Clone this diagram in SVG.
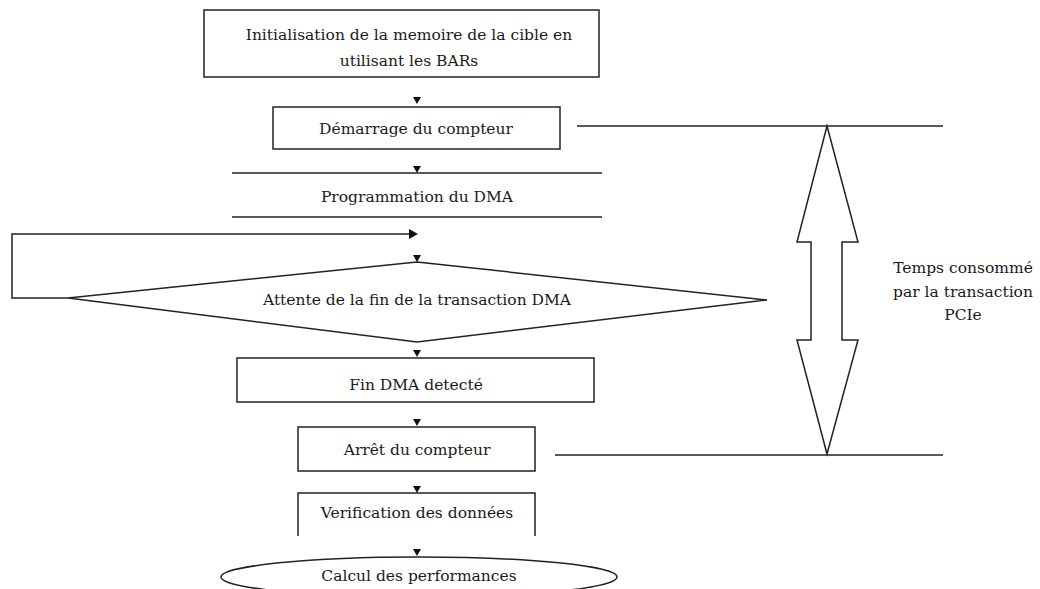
<svg xmlns="http://www.w3.org/2000/svg" width="1040" height="589" viewBox="0 0 1040 589">
  <style>
    .shape { fill: #ffffff; stroke: #222222; stroke-width: 1.5; }
    .line { fill: none; stroke: #222222; stroke-width: 1.5; }
    .label { font-family: "DejaVu Serif", "Liberation Serif", serif; font-size: 15.5px; fill: #1a1a1a; text-anchor: middle; }
    .head { fill: #111111; }
  </style>
  <rect width="1040" height="589" fill="#ffffff"/>

  <!-- connectors -->
  <g id="connectors">
    <polygon class="head" points="413,97 421,97 417,104"/>
    <polygon class="head" points="413,166 421,166 417,173"/>
    <polyline class="line" points="68,298 12,298 12,234 410,234"/>
    <polygon class="head" points="409,229 418,234 409,239"/>
    <polygon class="head" points="413,255 421,255 417,262"/>
    <polygon class="head" points="413,350 421,350 417,357"/>
    <polygon class="head" points="413,419 421,419 417,426"/>
    <polygon class="head" points="413,486 421,486 417,493"/>
    <polygon class="head" points="413,549 421,549 417,556"/>
  </g>

  <g id="init">
    <rect class="shape" x="204" y="10" width="395" height="67"/>
    <text class="label" x="409" y="40">Initialisation de la memoire de la cible en</text>
    <text class="label" x="409" y="66">utilisant les BARs</text>
  </g>

  <g id="start-counter">
    <rect class="shape" x="273" y="107" width="287" height="42"/>
    <text class="label" x="416" y="134">Démarrage du compteur</text>
  </g>

  <g id="dma-program">
    <line class="line" x1="232" y1="173" x2="602" y2="173"/>
    <line class="line" x1="232" y1="217" x2="602" y2="217"/>
    <text class="label" x="417" y="202">Programmation du DMA</text>
  </g>

  <g id="wait-dma">
    <polygon class="shape" points="417,262 767,300 417,342 68,298"/>
    <text class="label" x="417" y="305">Attente de la fin de la transaction DMA</text>
  </g>

  <g id="dma-done">
    <rect class="shape" x="237" y="358" width="357" height="44"/>
    <text class="label" x="416" y="390">Fin DMA detecté</text>
  </g>

  <g id="stop-counter">
    <rect class="shape" x="298" y="427" width="237" height="44"/>
    <text class="label" x="417" y="455">Arrêt du compteur</text>
  </g>

  <g id="verify">
    <polyline class="line" points="298,536 298,493 535,493 535,536"/>
    <text class="label" x="417" y="518">Verification des données</text>
  </g>

  <g id="perf">
    <ellipse class="shape" cx="419" cy="577" rx="198" ry="20"/>
    <text class="label" x="419" y="581">Calcul des performances</text>
  </g>

  <!-- elapsed time span -->
  <g id="time-span">
    <line class="line" x1="577" y1="126" x2="943" y2="126"/>
    <line class="line" x1="555" y1="455" x2="943" y2="455"/>
    <polygon class="shape" points="827,126 858,242 842,242 842,340 858,340 827,454 797,340 811,340 811,242 797,242"/>
    <text class="label" x="963" y="273">Temps consommé</text>
    <text class="label" x="963" y="297">par la transaction</text>
    <text class="label" x="963" y="320">PCIe</text>
  </g>
</svg>
